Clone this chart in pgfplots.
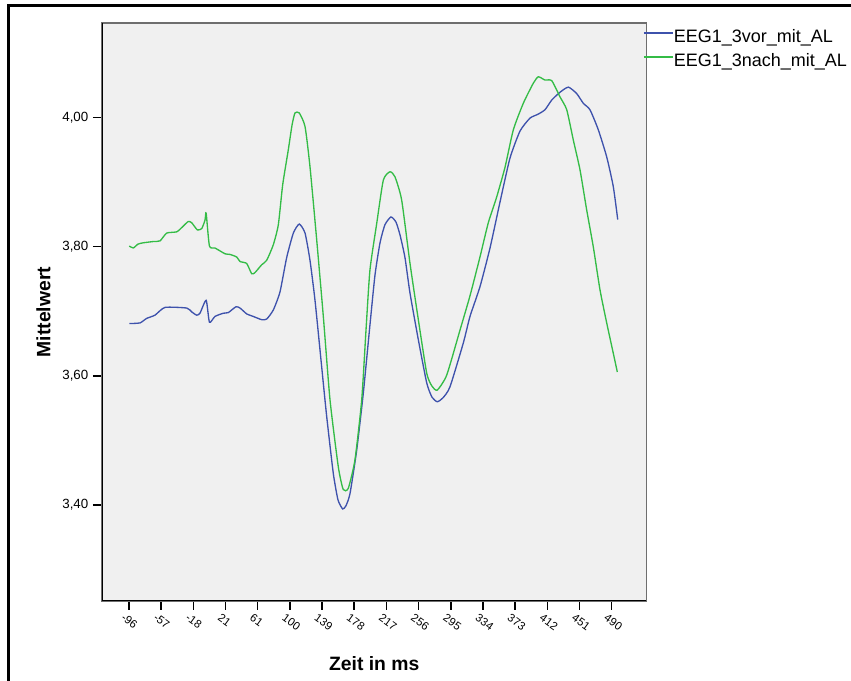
\documentclass[border=0pt]{standalone}
\usepackage{pgfplots}
\pgfplotsset{compat=1.18}
\usepackage{fontspec}
\setmainfont{Liberation Sans}
\definecolor{blueline}{RGB}{62,82,172}
\definecolor{greenline}{RGB}{52,188,70}
\definecolor{plotbg}{RGB}{240,240,240}
\definecolor{framegray}{RGB}{110,110,110}
\begin{document}
\begin{tikzpicture}
\useasboundingbox (0,0) rectangle (638.25pt,510.75pt);
\fill[white] (0,0) rectangle (638.25pt,510.75pt);
\draw[line width=2.25pt] (6pt,0) -- (6pt,506.25pt) -- (638.25pt,506.25pt);
\begin{axis}[
  at={(76.5pt,60pt)}, anchor=south west,
  scale only axis, width=408.375pt, height=433.5pt,
  xmin=-128.4, xmax=532.4, ymin=3.2515, ymax=4.1463,
  axis background/.style={fill=plotbg},
  axis line style={draw=framegray, line width=1.1pt},
  tick align=outside, xtick pos=bottom, ytick pos=left,
  major tick length=6.75pt,
  every tick/.style={black, line width=1.1pt},
  xtick={-95.7,-56.6,-17.6,21.5,60.5,99.6,138.7,177.7,216.8,255.9,294.9,334.0,373.0,412.1,451.2,490.2},
  xticklabels={-96,-57,-18,21,61,100,139,178,217,256,295,334,373,412,451,490},
  xticklabel style={font=\fontsize{8.5}{10}\selectfont, rotate=-36, anchor=north west, inner sep=0.5pt, yshift=-3pt, xshift=-1.5pt},
  ytick={3.4,3.6,3.8,4.0},
  yticklabel style={font=\fontsize{10}{12}\selectfont,
    /pgf/number format/.cd, fixed, fixed zerofill, precision=2, use comma, assume math mode=true},
  xlabel={Zeit in ms},
  ylabel={Mittelwert},
  xlabel style={font=\fontsize{14.5}{16}\selectfont\bfseries, at={(axis description cs:0.5,-0.1194)}, anchor=base},
  ylabel style={font=\fontsize{14.5}{16}\selectfont\bfseries, at={(axis description cs:-0.1074,0.5)}, anchor=center},
  legend style={at={(rel axis cs:0.9936,0.9889)}, anchor=north west, draw=none, fill=none,
    inner sep=0pt, outer sep=0pt, row sep=5pt,
    font=\fontsize{13.5}{15}\selectfont,
    nodes={inner sep=0pt, text height=10pt, text depth=3pt}},
  legend cell align=left,
]
\addlegendimage{legend image code/.code={\draw[draw=blueline, line width=1.3pt] (0pt,3.6pt) -- (21.75pt,3.6pt);}}
\addlegendentry{EEG1\_3vor\_mit\_AL}
\addlegendimage{legend image code/.code={\draw[draw=greenline, line width=1.3pt] (0pt,3.6pt) -- (21.75pt,3.6pt);}}
\addlegendentry{EEG1\_3nach\_mit\_AL}
\addplot[blueline, line width=1pt, smooth, tension=0.35, forget plot] coordinates {
(-95.3,3.681) (-82.3,3.682) (-74.2,3.689) (-64.1,3.694) (-51.9,3.706) (-25.6,3.705)
(-19.5,3.699) (-13.5,3.694) (-9.5,3.697) (-2.0,3.717) (2.0,3.683) (8.7,3.692)
(18.8,3.697) (24.9,3.698) (34.2,3.707) (39.1,3.705) (47.2,3.696) (55.2,3.692)
(65.4,3.687) (71.5,3.688) (79.5,3.702) (87.6,3.730) (95.7,3.783) (103.8,3.821)
(111.0,3.835) (118.0,3.821) (124.0,3.779) (130.1,3.717) (138.2,3.614) (144.3,3.537)
(152.3,3.449) (158.0,3.408) (163.7,3.394) (167.7,3.399) (172.6,3.418) (180.7,3.485)
(188.7,3.573) (196.8,3.679) (202.9,3.756) (209.0,3.806) (215.0,3.834) (222.3,3.846)
(228.4,3.838) (233.3,3.818) (239.3,3.783) (245.4,3.728) (255.5,3.656) (265.7,3.589)
(272.1,3.567) (278.5,3.560) (285.4,3.566) (293.9,3.583) (310.1,3.651) (318.2,3.692)
(330.3,3.738) (342.5,3.798) (354.6,3.869) (366.7,3.937) (378.9,3.979) (391.0,3.999)
(400.7,4.005) (409.2,4.012) (417.4,4.027) (427.4,4.039) (437.5,4.047) (447.7,4.037)
(455.7,4.022) (463.8,4.012) (473.9,3.981) (484.1,3.939) (492.1,3.893) (497.5,3.842)
};
\addplot[greenline, line width=1pt, smooth, tension=0.35, forget plot] coordinates {
(-95.3,3.801) (-90.4,3.798) (-84.7,3.804) (-78.3,3.806) (-66.1,3.808) (-58.0,3.809)
(-49.9,3.821) (-37.7,3.823) (-31.3,3.830) (-23.7,3.839) (-19.5,3.837) (-12.7,3.826)
(-7.4,3.828) (-3.4,3.841) (-2.0,3.852) (2.0,3.801) (8.7,3.798) (20.9,3.789)
(26.9,3.788) (35.1,3.784) (39.1,3.777) (47.2,3.774) (53.3,3.758) (57.3,3.760)
(65.4,3.772) (71.5,3.779) (79.5,3.803) (85.6,3.834) (90.9,3.896) (97.7,3.950)
(102.2,3.988) (105.8,4.007) (111.0,4.007) (118.0,3.986) (124.0,3.924) (132.2,3.810)
(140.2,3.692) (148.3,3.563) (158.4,3.459) (164.4,3.424) (170.5,3.426) (178.6,3.470)
(186.8,3.563) (192.0,3.671) (196.8,3.764) (205.0,3.836) (213.0,3.903) (221.1,3.916)
(227.2,3.908) (235.3,3.872) (245.4,3.774) (255.5,3.687) (265.7,3.604) (272.1,3.584)
(278.5,3.578) (289.9,3.601) (306.1,3.671) (318.2,3.724) (330.3,3.784) (340.4,3.837)
(350.6,3.877) (360.7,3.923) (370.8,3.981) (382.9,4.022) (395.0,4.053) (401.1,4.063)
(409.2,4.058) (417.4,4.057) (427.4,4.032) (435.6,4.012) (443.6,3.965) (451.7,3.919)
(459.8,3.857) (467.8,3.800) (476.0,3.733) (484.1,3.682) (492.1,3.635) (497.0,3.606)
};
\draw[black, line width=1.5pt] (rel axis cs:0,1) -- (rel axis cs:0,0) -- (rel axis cs:1,0);
\end{axis}
\end{tikzpicture}
\end{document}
